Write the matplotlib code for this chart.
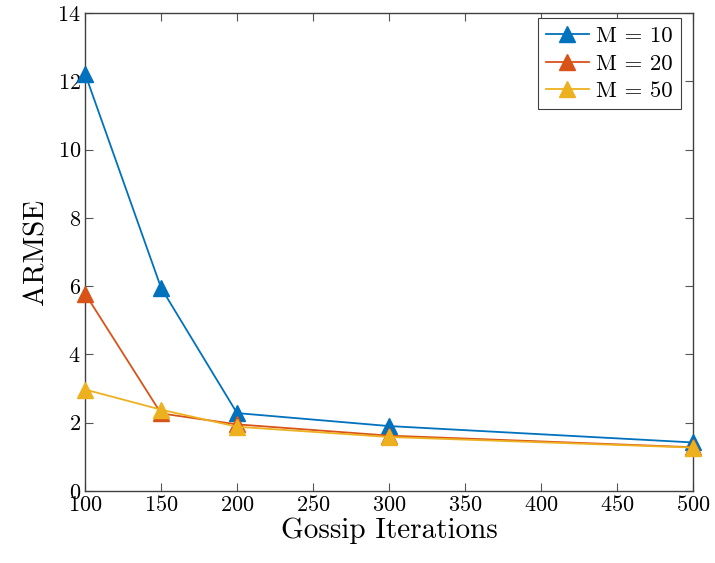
import matplotlib
matplotlib.use("Agg")
import matplotlib.pyplot as plt

plt.rcParams['font.family'] = 'serif'
plt.rcParams['font.serif'] = ['cmr10', 'DejaVu Serif']
plt.rcParams['mathtext.fontset'] = 'cm'
plt.rcParams['axes.formatter.use_mathtext'] = True

iterations = [100, 150, 200, 300, 500]
armse_m10 = [12.22, 5.95, 2.28, 1.90, 1.42]
armse_m20 = [5.78, 2.27, 1.95, 1.62, 1.28]
armse_m50 = [2.97, 2.38, 1.88, 1.58, 1.27]
labels = ['M = 10', 'M = 20', 'M = 50']
colors = ['#0072BD', '#D95319', '#EDB120']

fig = plt.figure(figsize=(7.15, 5.63), dpi=100)
ax = fig.add_axes([0.119, 0.128, 0.850, 0.849])

for ys, lab, c in zip([armse_m10, armse_m20, armse_m50], labels, colors):
    ax.plot(iterations, ys, color=c, marker='^', markersize=11, lw=1.3,
            label=lab, clip_on=False, zorder=3)

ax.set_xlim(100, 500)
ax.set_ylim(0, 14)
ax.set_xticks(range(100, 501, 50))
ax.set_yticks(range(0, 15, 2))
ax.tick_params(direction='in', top=True, right=True, length=6, width=0.8,
               color='#555555', labelsize=16, pad=3)
for s in ax.spines.values():
    s.set_color('#404040')
    s.set_linewidth(1.0)

ax.set_xlabel('Gossip Iterations', fontsize=21, labelpad=2)
ax.set_ylabel('ARMSE', fontsize=21, labelpad=6)

leg = ax.legend(loc='upper right', fontsize=16.5, fancybox=False, framealpha=1,
                edgecolor='#404040', handlelength=1.9, handletextpad=0.3,
                bbox_to_anchor=(0.98, 0.989), borderaxespad=0.0,
                labelspacing=0.33, borderpad=0.35)
leg.get_frame().set_linewidth(0.8)
leg.set_zorder(5)

fig.savefig('out.png', dpi=100)
